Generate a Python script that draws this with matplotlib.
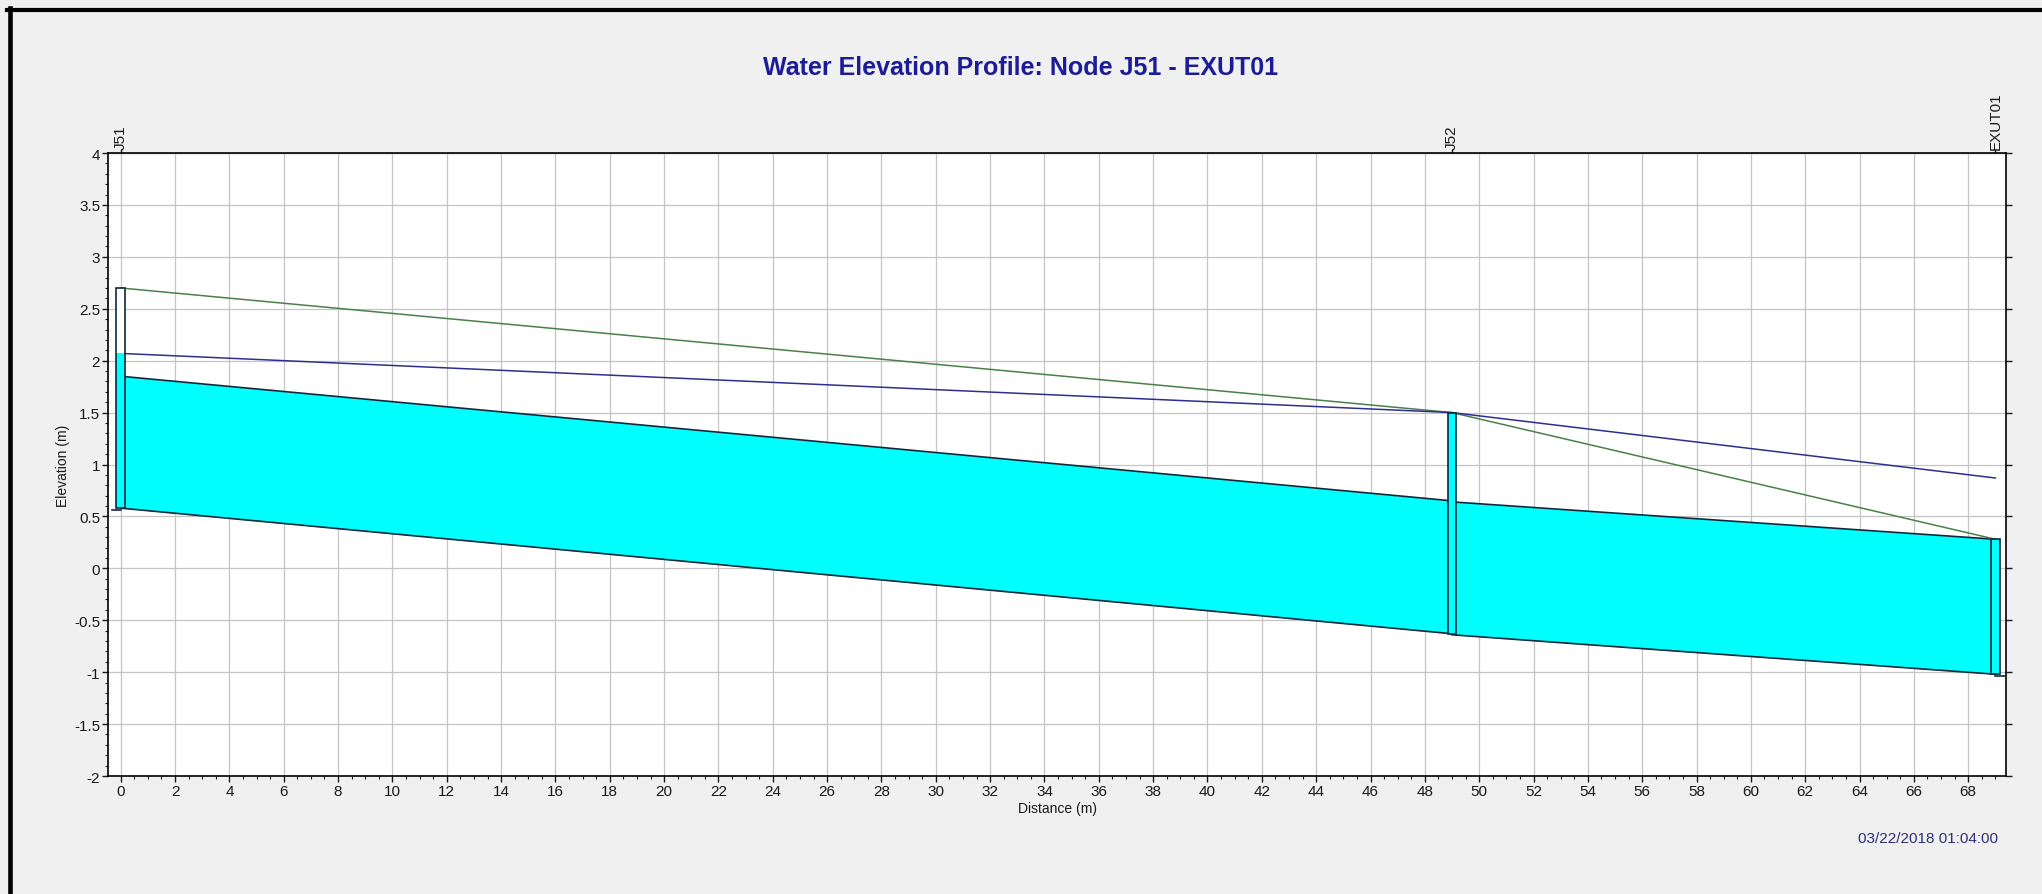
# plot.py
# Water elevation profile J51 -> EXUT01, drawn in the style of the SWMM profile plot.

import matplotlib
matplotlib.use("Agg")
import matplotlib.pyplot as plt
from matplotlib.patches import Rectangle
from matplotlib.lines import Line2D
from matplotlib.ticker import MultipleLocator, FuncFormatter

# nodes along the profile
node_names = ["J51", "J52", "EXUT01"]
node_dist = [0, 49, 69]          # m
node_invert = [0.58, -0.63, -1.02]
node_rim = [2.70, 1.50, 0.28]
water_level = [2.07, 1.50, 0.87]  # hydraulic grade line at each node

# conduits between the nodes (start node, end node)
link_from = [0, 1]
link_to = [1, 2]
link_up_invert = [0.58, -0.64]
link_dn_invert = [-0.63, -1.02]
link_up_crown = [1.85, 0.64]
link_dn_crown = [0.65, 0.28]

title = "Water Elevation Profile: Node J51 - EXUT01"
stamp = "03/22/2018 01:04:00"

BG = "#f0f0f0"
CYAN = "#00ffff"
EDGE = "#10283a"
GREEN = "#4a804a"
BLUE = "#2e2e8e"
GRID = "#c4c4c4"
TXT = "#1a1a1a"

plt.rcParams["font.family"] = ["Liberation Sans", "DejaVu Sans"]
plt.rcParams["axes.unicode_minus"] = False

fig = plt.figure(figsize=(20.42, 8.95), dpi=100, facecolor=BG)
ax = fig.add_axes([0.05313, 0.13184, 0.92924, 0.69609])
ax.set_facecolor("white")

# conduits: filled between invert and crown
for i in range(len(link_from)):
    x = [node_dist[link_from[i]], node_dist[link_to[i]]]
    inv = [link_up_invert[i], link_dn_invert[i]]
    crn = [link_up_crown[i], link_dn_crown[i]]
    ax.fill_between(x, inv, crn, color=CYAN, lw=0, zorder=2)
    ax.plot(x, inv, color=EDGE, lw=1.2, zorder=3)
    ax.plot(x, crn, color=EDGE, lw=1.2, zorder=3)

# ground and water lines
ax.plot(node_dist, node_rim, color=GREEN, lw=1.1, zorder=4)
ax.plot(node_dist, water_level, color=BLUE, lw=1.1, zorder=4)

# node manholes
hw = 0.16
for d, inv, rim, wl in zip(node_dist, node_invert, node_rim, water_level):
    ax.add_patch(Rectangle((d - hw, inv), 2 * hw, rim - inv, facecolor="white",
                           edgecolor="none", zorder=5))
    ax.add_patch(Rectangle((d - hw, inv), 2 * hw, min(wl, rim) - inv, facecolor=CYAN,
                           edgecolor="none", zorder=6))
    ax.add_patch(Rectangle((d - hw, inv), 2 * hw, rim - inv, facecolor="none",
                           edgecolor=EDGE, lw=1.2, zorder=7))

# small ground stubs at both ends
ax.plot([-0.33, node_dist[0]], [node_invert[0] - 0.015] * 2, color=EDGE, lw=1.2, zorder=7)
ax.plot([node_dist[-1], 69.4], [node_invert[-1] - 0.015] * 2, color=EDGE, lw=1.2, zorder=7)

ax.set_xlim(-0.45, 69.39)
ax.set_ylim(-2, 4)

ax.xaxis.set_major_locator(MultipleLocator(2))
ax.xaxis.set_minor_locator(MultipleLocator(0.5))
ax.yaxis.set_major_locator(MultipleLocator(0.5))
ax.yaxis.set_minor_locator(MultipleLocator(0.1))
fmt = FuncFormatter(lambda v, p: f"{v:g}")
ax.xaxis.set_major_formatter(fmt)
ax.yaxis.set_major_formatter(fmt)

ax.grid(True, which="major", color=GRID, lw=0.9, zorder=0)
ax.set_axisbelow(True)

ax.tick_params(axis="both", which="major", direction="out", length=4, width=1,
               labelsize=11, labelcolor=TXT, color=TXT, pad=2)
ax.tick_params(axis="both", which="minor", direction="out", length=2, width=0.8, color=TXT)
ax.tick_params(axis="y", which="major", right=True, length=4)
for s in ax.spines.values():
    s.set_color("black")
    s.set_linewidth(1.2)

ax.set_xlabel("Distance (m)", fontsize=10, color=TXT, labelpad=2)
ax.set_ylabel("Elevation (m)", fontsize=10, color=TXT, labelpad=3)

# node names along the top
top = ax.secondary_xaxis("top")
top.set_xticks(node_dist)
top.set_xticklabels(node_names, rotation=90, fontsize=11, color=TXT)
top.tick_params(direction="out", length=3, width=1, color=TXT, pad=0)
top.xaxis.set_minor_locator(plt.NullLocator())

fig.text(0.5, 0.924, title, ha="center", va="center", fontsize=18,
         fontweight="bold", color="#1c1c96")
fig.text(0.9785, 0.0626, stamp, ha="right", va="center", fontsize=11, color="#2e2e78")

# window frame (top and left edges only)
fig.add_artist(Line2D([7 / 2042, 1], [1 - 11 / 895] * 2, color="black", lw=3,
                      transform=fig.transFigure))
fig.add_artist(Line2D([9.5 / 2042] * 2, [0, 1 - 9 / 895], color="black", lw=3.3,
                      transform=fig.transFigure))

fig.savefig("out.png", dpi=100, facecolor=BG)
